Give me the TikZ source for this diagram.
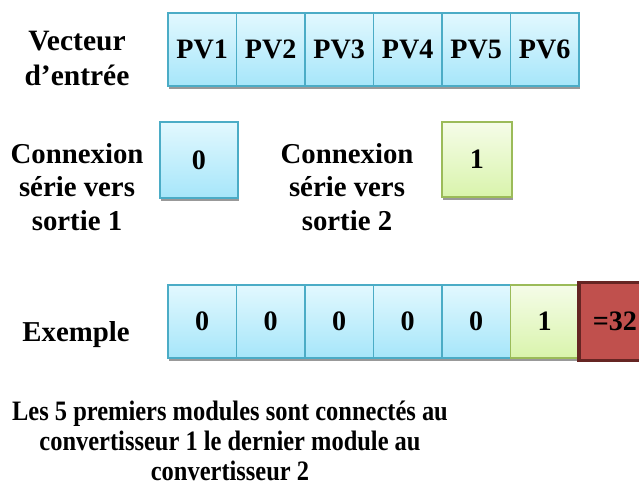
\documentclass[tikz,border=0pt]{standalone}
\usepackage{fontspec}
\setmainfont{Liberation Serif}
\newfontfamily\serree[FakeStretch=0.87]{Liberation Serif}
\usetikzlibrary{positioning,shadows}

\definecolor{bleurand}{HTML}{4BACC6}
\definecolor{bleuhaut}{HTML}{E2F8FE}
\definecolor{bleubas}{HTML}{A6E6FA}
\definecolor{vertrand}{HTML}{9BBB59}
\definecolor{verthaut}{HTML}{F5FCE8}
\definecolor{vertbas}{HTML}{D9F4AC}
\definecolor{rougefond}{HTML}{C0504D}
\definecolor{rougerand}{HTML}{652523}

\tikzset{
    ombre/.style={drop shadow={shadow xshift=0.5pt, shadow yshift=-1.7pt, opacity=1, fill=black!40}},
    case/.style={draw, line width=0.9pt, outer sep=0pt, inner sep=0pt,
        minimum width=1.37cm, minimum height=1.46cm,
        font=\fontsize{16}{18}\selectfont\bfseries, ombre},
    casebleue/.style={case, draw=bleurand, top color=bleuhaut, bottom color=bleubas},
    caseverte/.style={case, draw=vertrand, top color=verthaut, bottom color=vertbas},
    etiquette/.style 2 args={align=center, font=\fontsize{#1}{#2}\selectfont\bfseries},
}

\begin{document}
\begin{tikzpicture}[x=0.02cm, y=-0.02cm]
    \path[use as bounding box, clip] (0,0) rectangle (639,489);

    %Vecteur d'entree
    \node[etiquette={16.8}{0.7cm}] (vect) at (77,58.5) {Vecteur\\d'entrée};
    \node[casebleue, anchor=north west] (pv1) at (168,13) {PV1};
    \foreach \i [remember=\i as \j (initially 1)] in {2,...,6}
        \node[casebleue, right=0pt of pv\j] (pv\i) {PV\i};

    %Connexions serie
    \node[etiquette={16.4}{0.67cm}] (sortA) at (77,187) {Connexion\\série vers\\sortie 1};
    \node[casebleue, minimum width=1.56cm, minimum height=1.52cm] (zero) at (199,160) {0};
    \node[etiquette={16.4}{0.67cm}] (sortB) at (347,187) {Connexion\\série vers\\sortie 2};
    \node[caseverte, minimum width=1.40cm, minimum height=1.50cm] (un) at (477,159.5) {1};

    %Exemple
    \node[etiquette={16.4}{18pt}, anchor=base] (expl) at (76,342) {Exemple};
    \node[casebleue, anchor=north west] (ex1) at (168,285) {0};
    \foreach \i [remember=\i as \j (initially 1)] in {2,...,5}
        \node[casebleue, right=0pt of ex\j] (ex\i) {0};
    \node[caseverte, right=0pt of ex5] (ex6) {1};
    \node[draw=rougerand, fill=rougefond, line width=2pt, outer sep=0pt, inner sep=0pt,
        minimum width=1.44cm, minimum height=1.56cm,
        font=\fontsize{16}{18}\selectfont\bfseries, right=0pt of ex6] (res) {=32};

    %Bilan
    \node[align=center, font=\serree\fontsize{16}{0.6cm}\selectfont\bfseries] (bilan) at (230,441) {Les 5 premiers modules sont connectés au\\convertisseur 1 le dernier module au\\convertisseur 2};
\end{tikzpicture}
\end{document}
